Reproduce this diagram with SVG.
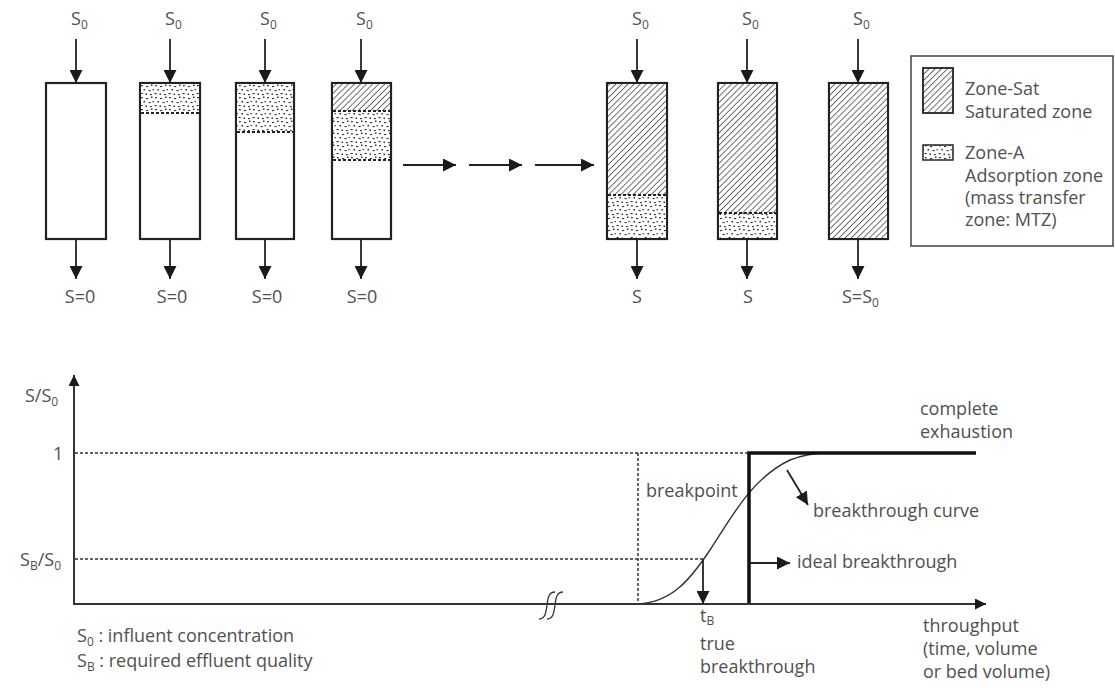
<svg xmlns="http://www.w3.org/2000/svg" width="1115" height="688" viewBox="0 0 1115 688">
  <style>
    .txt { font-family: "Open Sans", "Noto Sans", "Liberation Sans", sans-serif; font-size: 18px; fill: #505050; }
    .mid { text-anchor: middle; }
    .sub { font-size: 12px; }
    .col { fill: #fff; stroke: #222; stroke-width: 2.2; }
    .flow { stroke: #222; stroke-width: 1.8; fill: none; }
    .zone-line { stroke: #222; stroke-width: 1.8; stroke-dasharray: 3 2; fill: none; }
    .guide { stroke: #333; stroke-width: 1.5; stroke-dasharray: 3 2; fill: none; }
    .axis { stroke: #333; stroke-width: 2; fill: none; }
    .ideal { stroke: #111; stroke-width: 3.5; fill: none; }
  </style>
  <defs>
    <pattern id="hatch" width="4.3" height="4.3" patternUnits="userSpaceOnUse" patternTransform="rotate(45)">
      <rect width="4.3" height="4.3" fill="#fff"/>
      <line x1="0" y1="0" x2="0" y2="4.3" stroke="#222" stroke-width="1.3"/>
    </pattern>
    <pattern id="dots" width="14" height="12" patternUnits="userSpaceOnUse">
      <rect width="14" height="12" fill="#fff"/>
      <g fill="#333">
        <rect x="1" y="1" width="1.8" height="1.3"/>
        <rect x="6" y="2" width="2.2" height="1.1"/>
        <rect x="11" y="0.5" width="1.5" height="1.5"/>
        <rect x="3.5" y="5" width="1.5" height="1.5"/>
        <rect x="8.5" y="6" width="2.2" height="1.1"/>
        <rect x="12.5" y="5" width="1.3" height="1.3"/>
        <rect x="0.5" y="9" width="2.2" height="1.1"/>
        <rect x="5.5" y="9.5" width="1.5" height="1.5"/>
        <rect x="10" y="10" width="1.8" height="1.2"/>
      </g>
    </pattern>
    <marker id="head" viewBox="0 0 10 10" refX="10" refY="5" markerWidth="13" markerHeight="13" markerUnits="userSpaceOnUse" orient="auto">
      <path d="M0,0 L10,5 L0,10 z" fill="#1a1a1a"/>
    </marker>
    <marker id="headS" viewBox="0 0 10 10" refX="10" refY="5" markerWidth="11" markerHeight="11" markerUnits="userSpaceOnUse" orient="auto">
      <path d="M0,0 L10,5 L0,10 z" fill="#1a1a1a"/>
    </marker>
  </defs>

  <!-- Column 1: fresh bed -->
  <g id="column-1">
    <text class="txt" x="71" y="25">S<tspan class="sub" dy="4">0</tspan></text>
    <rect class="col" x="46" y="83" width="60" height="156"/>
    <text class="txt mid" x="80" y="303">S=0</text>
  </g>

  <!-- Column 2: adsorption zone forming at the top -->
  <g id="column-2">
    <text class="txt" x="165" y="25">S<tspan class="sub" dy="4">0</tspan></text>
    <rect class="col" x="140" y="83" width="60" height="156"/>
    <rect x="141" y="84" width="58" height="29" fill="url(#dots)"/>
    <line class="zone-line" x1="141" y1="113" x2="199" y2="113"/>
    <text class="txt mid" x="172" y="303">S=0</text>
  </g>

  <!-- Column 3: adsorption zone grown -->
  <g id="column-3">
    <text class="txt" x="260" y="25">S<tspan class="sub" dy="4">0</tspan></text>
    <rect class="col" x="236" y="83" width="58" height="156"/>
    <rect x="237" y="84" width="56" height="48" fill="url(#dots)"/>
    <line class="zone-line" x1="237" y1="132" x2="293" y2="132"/>
    <text class="txt mid" x="267" y="303">S=0</text>
  </g>

  <!-- Column 4: saturated zone on top, MTZ moving down -->
  <g id="column-4">
    <text class="txt" x="356" y="25">S<tspan class="sub" dy="4">0</tspan></text>
    <rect class="col" x="332" y="83" width="59" height="156"/>
    <rect x="333" y="84" width="57" height="27" fill="url(#hatch)"/>
    <rect x="333" y="111" width="57" height="49" fill="url(#dots)"/>
    <line class="zone-line" x1="333" y1="111" x2="390" y2="111"/>
    <line class="zone-line" x1="333" y1="160" x2="390" y2="160"/>
    <text class="txt mid" x="362" y="303">S=0</text>
  </g>

  <!-- Column 5: MTZ reaching the outlet -->
  <g id="column-5">
    <text class="txt" x="632" y="25">S<tspan class="sub" dy="4">0</tspan></text>
    <rect class="col" x="607" y="83" width="60" height="156"/>
    <rect x="608" y="84" width="58" height="111" fill="url(#hatch)"/>
    <rect x="608" y="195" width="58" height="43" fill="url(#dots)"/>
    <line class="zone-line" x1="608" y1="195" x2="666" y2="195"/>
    <text class="txt mid" x="637" y="303">S</text>
  </g>

  <!-- Column 6: breakthrough -->
  <g id="column-6">
    <text class="txt" x="742" y="25">S<tspan class="sub" dy="4">0</tspan></text>
    <rect class="col" x="718" y="83" width="59" height="156"/>
    <rect x="719" y="84" width="57" height="129" fill="url(#hatch)"/>
    <rect x="719" y="213" width="57" height="25" fill="url(#dots)"/>
    <line class="zone-line" x1="719" y1="213" x2="776" y2="213"/>
    <text class="txt mid" x="748" y="303">S</text>
  </g>

  <!-- Column 7: fully exhausted bed -->
  <g id="column-7">
    <text class="txt" x="853" y="25">S<tspan class="sub" dy="4">0</tspan></text>
    <rect class="col" x="829" y="83" width="59" height="156"/>
    <rect x="830" y="84" width="57" height="154" fill="url(#hatch)"/>
    <text class="txt" x="842" y="303">S=S<tspan class="sub" dy="4">0</tspan></text>
  </g>

  <!-- Legend -->
  <g id="legend">
    <rect x="911" y="56" width="202" height="190" fill="#fff" stroke="#444" stroke-width="1.5"/>
    <rect x="923" y="68" width="30" height="45" fill="url(#hatch)" stroke="#222" stroke-width="1.8"/>
    <text class="txt" x="965" y="95">Zone-Sat</text>
    <text class="txt" x="965" y="118">Saturated zone</text>
    <rect x="923" y="145" width="30" height="15" fill="url(#dots)" stroke="#222" stroke-width="1.5"/>
    <text class="txt" x="965" y="159">Zone-A</text>
    <text class="txt" x="965" y="182">Adsorption zone</text>
    <text class="txt" x="965" y="204">(mass transfer</text>
    <text class="txt" x="965" y="226">zone: MTZ)</text>
  </g>

  <!-- Breakthrough chart -->
  <g id="chart">
    <text class="txt" x="25" y="402">S/S<tspan class="sub" dy="4">0</tspan></text>
    <text class="txt" x="53" y="460">1</text>
    <text class="txt" x="20" y="566">S<tspan class="sub" dy="4">B</tspan><tspan dy="-4">/S</tspan><tspan class="sub" dy="4">0</tspan></text>
    <line class="guide" x1="75" y1="453" x2="748" y2="453"/>
    <line class="guide" x1="75" y1="559" x2="703" y2="559"/>
    <line class="guide" x1="638" y1="453" x2="638" y2="603"/>
    <!-- axis break mark -->
    <path d="M539,619 C545,619 546,613 547,605 C548,597 549,592 555,592" fill="none" stroke="#333" stroke-width="1.3"/>
    <path d="M547,619 C553,619 554,613 555,605 C556,597 557,592 563,592" fill="none" stroke="#333" stroke-width="1.3"/>
    <!-- breakthrough curve -->
    <path d="M638,604 C672,602 690,580 710,550 C733,515 752,478 790,460 C803,455 815,453 827,453" fill="none" stroke="#333" stroke-width="1.4"/>
    <!-- ideal breakthrough -->
    <path class="ideal" d="M749,604 L749,453 L976,453"/>
    <text class="txt" x="646" y="497">breakpoint</text>
    <text class="txt" x="920" y="415">complete</text>
    <text class="txt" x="920" y="438">exhaustion</text>
    <text class="txt" x="813" y="517">breakthrough curve</text>
    <text class="txt" x="797" y="568">ideal breakthrough</text>
    <text class="txt" x="700" y="622">t<tspan class="sub" dy="3">B</tspan></text>
    <text class="txt" x="700" y="650">true</text>
    <text class="txt" x="700" y="673">breakthrough</text>
    <text class="txt" x="923" y="632">throughput</text>
    <text class="txt" x="923" y="655">(time, volume</text>
    <text class="txt" x="923" y="678">or bed volume)</text>
    <text class="txt" x="77" y="642">S<tspan class="sub" dy="4">0</tspan><tspan dy="-4"> : influent concentration</tspan></text>
    <text class="txt" x="77" y="667">S<tspan class="sub" dy="4">B</tspan><tspan dy="-4"> : required effluent quality</tspan></text>
  </g>

  <!-- Connectors -->
  <g id="connectors">
    <line class="flow" x1="76" y1="39" x2="76" y2="83" marker-end="url(#head)"/>
    <line class="flow" x1="170" y1="39" x2="170" y2="83" marker-end="url(#head)"/>
    <line class="flow" x1="265" y1="39" x2="265" y2="83" marker-end="url(#head)"/>
    <line class="flow" x1="361" y1="39" x2="361" y2="83" marker-end="url(#head)"/>
    <line class="flow" x1="637" y1="39" x2="637" y2="83" marker-end="url(#head)"/>
    <line class="flow" x1="747" y1="39" x2="747" y2="83" marker-end="url(#head)"/>
    <line class="flow" x1="858" y1="39" x2="858" y2="83" marker-end="url(#head)"/>

    <line class="flow" x1="76" y1="239" x2="76" y2="279" marker-end="url(#head)"/>
    <line class="flow" x1="170" y1="239" x2="170" y2="279" marker-end="url(#head)"/>
    <line class="flow" x1="265" y1="239" x2="265" y2="279" marker-end="url(#head)"/>
    <line class="flow" x1="361" y1="239" x2="361" y2="279" marker-end="url(#head)"/>
    <line class="flow" x1="637" y1="239" x2="637" y2="279" marker-end="url(#head)"/>
    <line class="flow" x1="747" y1="239" x2="747" y2="279" marker-end="url(#head)"/>
    <line class="flow" x1="858" y1="239" x2="858" y2="279" marker-end="url(#head)"/>

    <line class="flow" x1="403" y1="165" x2="456" y2="165" marker-end="url(#head)"/>
    <line class="flow" x1="469" y1="165" x2="522" y2="165" marker-end="url(#head)"/>
    <line class="flow" x1="535" y1="165" x2="594" y2="165" marker-end="url(#head)"/>

    <!-- chart axes -->
    <line class="axis" x1="74" y1="604" x2="74" y2="375" marker-end="url(#headS)"/>
    <line class="axis" x1="73" y1="604" x2="986" y2="604" marker-end="url(#headS)"/>
    <!-- chart pointers -->
    <line class="flow" x1="703" y1="559" x2="703" y2="604" marker-end="url(#head)"/>
    <line class="flow" x1="787" y1="470" x2="808" y2="505" marker-end="url(#head)"/>
    <line class="flow" x1="750" y1="563" x2="790" y2="563" marker-end="url(#head)"/>
  </g>
</svg>
